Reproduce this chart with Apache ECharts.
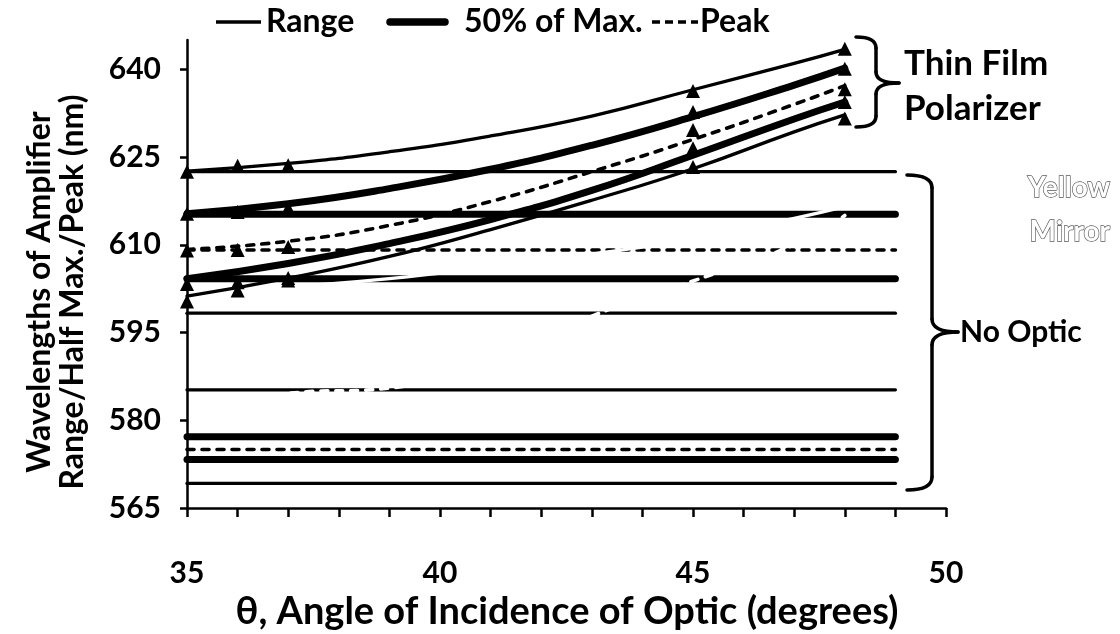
<!DOCTYPE html>
<html>
<head>
<meta charset="utf-8">
<script src="https://cdn.jsdelivr.net/npm/echarts@6/dist/echarts.min.js"></script>
<style>
  html, body { margin: 0; padding: 0; background: #ffffff; }
  #chart { width: 1120px; height: 634px; }
</style>
</head>
<body>
<div id="chart"></div>
<script>
// ---- Axis ticks ----
const xTickValues = [35, 36, 37, 38, 39, 40, 41, 42, 43, 44, 45, 46, 47, 48, 49, 50];
const xLabelValues = [35, 40, 45, 50];
const yTickValues = [565, 580, 595, 610, 625, 640];

// ---- Thin film polarizer: fitted curves (nm) read along the angle ----
const curveAngles = [35, 37, 39, 41, 43, 45, 47, 48];
const tfpRangeHigh = [622.6, 623.9, 625.9, 628.6, 632.0, 636.5, 641.0, 643.4];
const tfpHalfHigh  = [615.3, 617.0, 619.6, 622.9, 627.0, 631.9, 637.3, 640.2];
const tfpPeak      = [609.2, 610.6, 613.3, 617.4, 622.5, 628.0, 634.0, 637.2];
const tfpHalfLow   = [604.2, 606.8, 610.2, 614.3, 619.3, 625.3, 631.5, 634.4];
const tfpRangeLow  = [601.2, 604.3, 608.0, 612.6, 617.6, 623.0, 629.3, 632.2];

// ---- Thin film polarizer: measured points (nm) ----
const measuredAngles  = [35, 36, 37, 45, 48];
const tfpRangeHighPts = [622.5, 623.5, 623.6, 636.3, 643.5];
const tfpHalfHighPts  = [615.3, 615.6, 616.3, 632.7, 640.1];
const tfpPeakPts      = [609.0, 609.1, 609.6, 629.6, 636.6];
const tfpHalfLowPts   = [603.3, 603.6, 604.3, 626.5, 634.4];
const tfpRangeLowPts  = [600.3, 602.2, 603.9, 623.3, 631.6];

// ---- Yellow mirror: curves (nm), drawn in white ----
const mirrorHigh = [601.5, 602.8, 604.2, 606.2, 608.4, 611.0, 614.5, 616.5];
const mirrorPeak = [582.0, 584.6, 585.5, 590.0, 597.8, 603.8, 610.0, 615.0];

// ---- No optic: constant levels (nm) over the angle span ----
const flatAngles = [35, 49];
const noOpticUpper = { rangeHigh: 622.5, halfHigh: 615.2, peak: 609.1, halfLow: 604.2, rangeLow: 598.3 };
const noOpticLower = { rangeHigh: 585.2, halfHigh: 577.2, peak: 575.0, halfLow: 573.3, rangeLow: 569.2 };

const FONT = 'Lato, "Open Sans", sans-serif';
const INK = '#000000';
const MIRROR = '#ffffff';

const STROKES = {
  range: { width: 3.3, type: 'solid' },
  half:  { width: 7, type: 'solid' },
  peak:  { width: 3.6, type: [7, 8] }
};

function pairs(xs, ys) {
  return xs.map((x, i) => [x, ys[i]]);
}

function lineSeries(name, xs, ys, kind, smooth, z, color) {
  const s = STROKES[kind];
  return {
    type: 'line',
    name: name,
    data: pairs(xs, ys),
    symbol: 'none',
    smooth: smooth,
    silent: true,
    z: z,
    lineStyle: { color: color || INK, width: s.width, type: s.type, cap: 'round', join: 'round' }
  };
}

function flatSeries(name, level, kind) {
  return lineSeries(name, flatAngles, flatAngles.map(() => level), kind, false, 2);
}

function markerSeries(name, ys) {
  return {
    type: 'scatter',
    name: name,
    data: pairs(measuredAngles, ys),
    symbol: 'triangle',
    symbolSize: 14,
    silent: true,
    z: 5,
    itemStyle: { color: INK, opacity: 1 }
  };
}

const series = [
  flatSeries('No Optic range high', noOpticUpper.rangeHigh, 'range'),
  flatSeries('No Optic half high', noOpticUpper.halfHigh, 'half'),
  flatSeries('No Optic peak', noOpticUpper.peak, 'peak'),
  flatSeries('No Optic half low', noOpticUpper.halfLow, 'half'),
  flatSeries('No Optic range low', noOpticUpper.rangeLow, 'range'),
  flatSeries('No Optic range high 2', noOpticLower.rangeHigh, 'range'),
  flatSeries('No Optic half high 2', noOpticLower.halfHigh, 'half'),
  flatSeries('No Optic peak 2', noOpticLower.peak, 'peak'),
  flatSeries('No Optic half low 2', noOpticLower.halfLow, 'half'),
  flatSeries('No Optic range low 2', noOpticLower.rangeLow, 'range'),

  lineSeries('Yellow Mirror high', curveAngles, mirrorHigh, 'range', 0.5, 3, MIRROR),
  lineSeries('Yellow Mirror peak', curveAngles, mirrorPeak, 'peak', 0.5, 3, MIRROR),

  lineSeries('TFP range high', curveAngles, tfpRangeHigh, 'range', 0.5, 4),
  lineSeries('TFP half high', curveAngles, tfpHalfHigh, 'half', 0.5, 4),
  lineSeries('TFP peak', curveAngles, tfpPeak, 'peak', 0.5, 4),
  lineSeries('TFP half low', curveAngles, tfpHalfLow, 'half', 0.5, 4),
  lineSeries('TFP range low', curveAngles, tfpRangeLow, 'range', 0.5, 4),

  markerSeries('TFP range high pts', tfpRangeHighPts),
  markerSeries('TFP half high pts', tfpHalfHighPts),
  markerSeries('TFP peak pts', tfpPeakPts),
  markerSeries('TFP half low pts', tfpHalfLowPts),
  markerSeries('TFP range low pts', tfpRangeLowPts)
];

const axisFont = { color: INK, fontFamily: FONT, fontWeight: 'bold', fontSize: 30 };

// Curly brace built from straight and quadratic pieces
function brace(xEnd, xStem, xTip, yTop, yMid, yBot, r) {
  const st = { stroke: INK, lineWidth: 3.5, fill: null, lineCap: 'round' };
  return [
    { type: 'bezierCurve', shape: { x1: xEnd, y1: yTop, cpx1: xStem, cpy1: yTop, x2: xStem, y2: yTop + r }, style: st },
    { type: 'line', shape: { x1: xStem, y1: yTop + r, x2: xStem, y2: yMid - r }, style: st },
    { type: 'bezierCurve', shape: { x1: xStem, y1: yMid - r, cpx1: xStem, cpy1: yMid, x2: xTip, y2: yMid }, style: st },
    { type: 'bezierCurve', shape: { x1: xTip, y1: yMid, cpx1: xStem, cpy1: yMid, x2: xStem, y2: yMid + r }, style: st },
    { type: 'line', shape: { x1: xStem, y1: yMid + r, x2: xStem, y2: yBot - r }, style: st },
    { type: 'bezierCurve', shape: { x1: xStem, y1: yBot - r, cpx1: xStem, cpy1: yBot, x2: xEnd, y2: yBot }, style: st }
  ];
}

const graphic = [
  // legend
  { type: 'line', shape: { x1: 216, y1: 22, x2: 261, y2: 22 }, style: { stroke: INK, lineWidth: 3.3 } },
  { type: 'text', x: 266, y: 22, style: { text: 'Range', fill: INK, font: 'bold 32px ' + FONT, textVerticalAlign: 'middle' } },
  { type: 'line', shape: { x1: 390, y1: 22, x2: 445, y2: 22 }, style: { stroke: INK, lineWidth: 7.5, lineCap: 'round' } },
  { type: 'text', x: 464, y: 22, style: { text: '50% of Max.', fill: INK, font: 'bold 32px ' + FONT, textVerticalAlign: 'middle' } },
  { type: 'line', shape: { x1: 652, y1: 22, x2: 698, y2: 22 }, style: { stroke: INK, lineWidth: 3.3, lineDash: [8, 5] } },
  { type: 'text', x: 700, y: 22, style: { text: 'Peak', fill: INK, font: 'bold 32px ' + FONT, textVerticalAlign: 'middle' } },

  // y axis title
  { type: 'text', x: 56, y: 292, rotation: Math.PI / 2,
    style: { text: 'Wavelengths of Amplifier\nRange/Half Max./Peak (nm)', fill: INK, font: 'bold 32px ' + FONT,
             textAlign: 'center', textVerticalAlign: 'middle', lineHeight: 33 } },
  // x axis title
  { type: 'text', x: 567, y: 612,
    style: { text: 'θ, Angle of Incidence of Optic (degrees)', fill: INK, font: 'bold 38px ' + FONT,
             textAlign: 'center', textVerticalAlign: 'middle' } },

  // group labels
  ...brace(856, 876, 899, 37, 83, 127, 11),
  { type: 'text', x: 904, y: 86,
    style: { text: 'Thin Film\nPolarizer', fill: INK, font: 'bold 35px ' + FONT, textVerticalAlign: 'middle', lineHeight: 45 } },
  ...brace(907, 932, 958, 175, 332, 490, 13),
  { type: 'text', x: 960, y: 332,
    style: { text: 'No Optic', fill: INK, font: 'bold 30px ' + FONT, textVerticalAlign: 'middle' } },
  { type: 'text', x: 1110, y: 210,
    style: { text: 'Yellow\nMirror', fill: '#ffffff', stroke: '#5a5a5a', lineWidth: 1.3, font: 'bold 28px ' + FONT,
             textAlign: 'right', textVerticalAlign: 'middle', lineHeight: 44 } }
];

const option = {
  animation: false,
  backgroundColor: '#ffffff',
  grid: { left: 187, right: 174, top: 40, bottom: 126, containLabel: false },
  xAxis: {
    type: 'value', min: 35, max: 50, z: 10,
    axisLine: { show: true, onZero: false, lineStyle: { color: INK, width: 2.5 } },
    axisTick: { show: true, inside: false, length: 9, customValues: xTickValues, lineStyle: { color: INK, width: 2.5 } },
    axisLabel: { customValues: xLabelValues, margin: 50, ...axisFont },
    splitLine: { show: false }
  },
  yAxis: {
    type: 'value', min: 565, max: 645, z: 10,
    axisLine: { show: true, onZero: false, lineStyle: { color: INK, width: 2.5 } },
    axisTick: { show: true, inside: false, length: 7, customValues: yTickValues, lineStyle: { color: INK, width: 2.5 } },
    axisLabel: { customValues: yTickValues, margin: 26, ...axisFont },
    splitLine: { show: false }
  },
  series: series,
  graphic: graphic
};

const chart = echarts.init(document.getElementById('chart'));
chart.setOption(option);
</script>
</body>
</html>
